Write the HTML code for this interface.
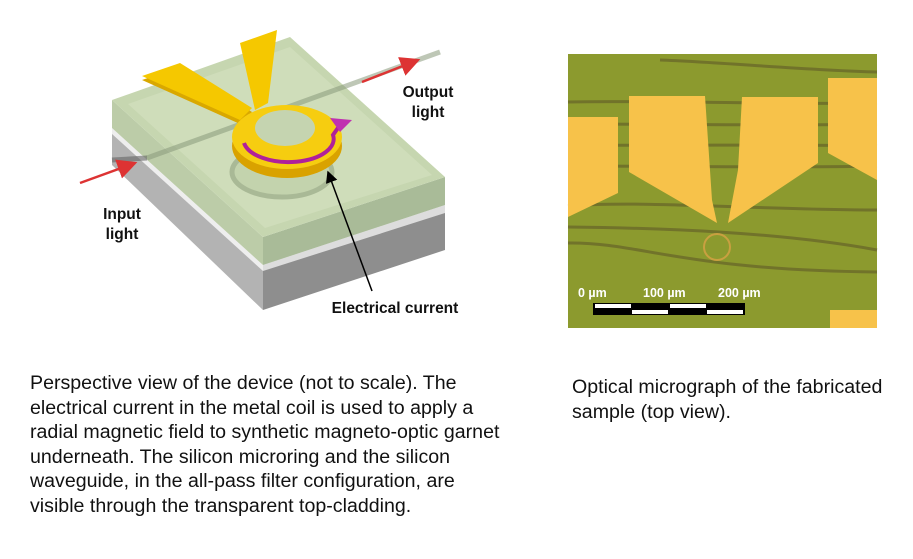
<!DOCTYPE html>
<html><head><style>
body{margin:0;width:913px;height:559px;background:#fff;overflow:hidden;position:relative;font-family:"Liberation Sans",sans-serif}
.cap{position:absolute;font-size:19.6px;line-height:24.6px;color:#111;white-space:nowrap}
</style></head><body>
<svg width="913" height="559" style="position:absolute;left:0;top:0">
<defs>
<marker id="ar" markerWidth="8" markerHeight="8" refX="7" refY="4" orient="auto"><path d="M0,0 L8,4 L0,8 z" fill="#d33"/></marker>
<marker id="ak" markerWidth="8" markerHeight="8" refX="7" refY="4" orient="auto"><path d="M0,0 L8,4 L0,8 z" fill="#000"/></marker>
</defs>
<polygon points="112,132 263,270 263,310 112,165" fill="#b3b3b3"/>
<polygon points="263,270 445,212 445,250 263,310" fill="#8e8e8e"/>
<polygon points="112,128 263,265 263,271 112,134" fill="#eee"/>
<polygon points="263,265 445,205 445,213 263,271" fill="#ddd"/>
<polygon points="112,100 263,237 263,265 112,128" fill="#bccca8"/>
<polygon points="263,237 445,177 445,205 263,265" fill="#a9bb98"/>
<polygon points="112,100 290,37 445,177 263,237" fill="#c6d6b0"/>
<polygon points="128,104 290,47 432,175 265,228" fill="#cfddba"/>
<line x1="147" y1="158" x2="440" y2="52" stroke="#8a9a7c" stroke-width="5" opacity=".55"/>
<line x1="112" y1="160" x2="147" y2="158" stroke="#666" stroke-width="5" opacity=".6"/>
<ellipse cx="282" cy="172" rx="50" ry="25" fill="#c3d3ad" stroke="#a9b996" stroke-width="5"/>
<polygon points="142,80 180,67 252,112 240,124" fill="#d9a800"/>
<polygon points="142,76 180,63 252,108 240,120" fill="#f5c800"/>
<polygon points="240,43 277,30 268,103 255,110" fill="#f5c800"/>
<ellipse cx="287" cy="146" rx="55" ry="32" fill="#d9a200"/>
<ellipse cx="287" cy="137" rx="55" ry="32" fill="#f6cd10"/>
<ellipse cx="285" cy="128" rx="30" ry="18" fill="#c5d4b0"/>
<path d="M244,143 A45 23 0 0 0 333,135 L340,125" fill="none" stroke="#b0209a" stroke-width="4"/>
<polygon points="330,118 352,120 340,132" fill="#c030b0"/>
<line x1="80" y1="183" x2="135" y2="163" stroke="#d33" stroke-width="2.5" marker-end="url(#ar)"/>
<line x1="362" y1="82" x2="418" y2="60" stroke="#d33" stroke-width="2.5" marker-end="url(#ar)"/>
<line x1="372" y1="291" x2="328" y2="172" stroke="#000" stroke-width="1.5" marker-end="url(#ak)"/>
<g font-weight="bold" font-size="15.5" fill="#111" text-anchor="middle">
<text x="428" y="97">Output</text><text x="428" y="117">light</text>
<text x="122" y="219">Input</text><text x="122" y="239">light</text>
<text x="395" y="313">Electrical current</text>
</g>
<rect x="568" y="54" width="309" height="274" fill="#8c9a2e"/>
<g stroke="#6b6a2a" stroke-width="3" fill="none" opacity=".8">
<path d="M568,102 C650,100 800,105 877,103"/>
<path d="M568,124 C680,124 800,126 877,124"/>
<path d="M568,145 C680,146 800,144 877,146"/>
<path d="M568,166 C680,166 800,168 877,166"/>
<path d="M568,206 C640,200 760,210 877,210"/>
<path d="M568,227 C660,228 780,232 877,250"/>
<path d="M568,243 C640,242 680,270 877,272"/>
<path d="M660,60 C720,62 800,70 877,72"/>
</g>
<g fill="#f7c24a">
<polygon points="568,117 618,117 618,193 568,217"/>
<polygon points="629,96 705,96 712,200 717,223 629,172"/>
<polygon points="742,97 818,97 818,163 728,223 738,170"/>
<polygon points="828,78 877,78 877,180 828,153"/>
<rect x="830" y="310" width="47" height="18"/>
</g>
<circle cx="717" cy="247" r="13" fill="none" stroke="#c9a040" stroke-width="2"/>
<g fill="#fff" font-weight="bold" font-size="12.5">
<text x="578" y="297">0 µm</text><text x="643" y="297">100 µm</text><text x="718" y="297">200 µm</text>
</g>
<rect x="593" y="303" width="152" height="12" fill="#000"/>
<rect x="595" y="304" width="36" height="4" fill="#fff"/>
<rect x="670" y="304" width="36" height="4" fill="#fff"/>
<rect x="632" y="310" width="36" height="4" fill="#fff"/>
<rect x="707" y="310" width="36" height="4" fill="#fff"/>
</svg>
<div class="cap" style="left:30px;top:371px">Perspective view of the device (not to scale). The<br>electrical current in the metal coil is used to apply a<br>radial magnetic field to synthetic magneto-optic garnet<br>underneath. The silicon microring and the silicon<br>waveguide, in the all-pass filter configuration, are<br>visible through the transparent top-cladding.</div>
<div class="cap" style="left:572px;top:375px">Optical micrograph of the fabricated<br>sample (top view).</div>
</body></html>
